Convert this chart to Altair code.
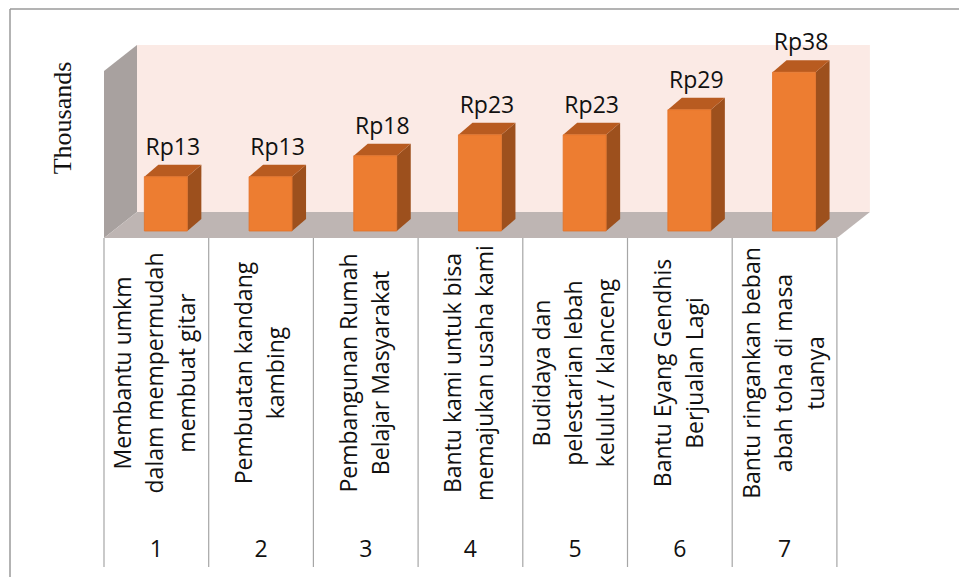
import altair as alt
import pandas as pd

# ---------------------------------------------------------------- data
project_no = [1, 2, 3, 4, 5, 6, 7]
project_names = [
    "Membantu umkm\ndalam mempermudah\nmembuat gitar",
    "Pembuatan kandang\nkambing",
    "Pembangunan Rumah\nBelajar Masyarakat",
    "Bantu kami untuk bisa\nmemajukan usaha kami",
    "Budidaya dan\npelestarian lebah\nkelulut / klanceng",
    "Bantu Eyang Gendhis\nBerjualan Lagi",
    "Bantu ringankan beban\nabah toha di masa\ntuanya",
]
cost_thousands = [13, 13, 18, 23, 23, 29, 38]

# ---------------------------------------------------------------- geometry
# x runs in category-band units (band k spans k-1 .. k), y in thousands.
W, H = 959, 577
BAND_PX = 104.7
UNIT_PX = 4.18
ORIGIN_X_PX = 104
ZERO_Y_PX = 231


def bx(px):
    return px / BAND_PX


def vy(px):
    return px / UNIT_PX


X_DOMAIN = [-ORIGIN_X_PX / BAND_PX, (W - ORIGIN_X_PX) / BAND_PX]
Y_DOMAIN = [-(H - ZERO_Y_PX) / UNIT_PX, ZERO_Y_PX / UNIT_PX]

FLOOR_DX, FLOOR_DY = bx(33), vy(26)     # depth of the floor
BAR_DX, BAR_DY = bx(14), vy(12)         # depth of each column
BAR_W = bx(43)
FLOOR_FRONT = -(FLOOR_DY - BAR_DY) / 2
WALL_TOP = 44.5
N = len(project_no)
TABLE_BOTTOM = -vy(567 - ZERO_Y_PX)
NUMBER_ROW = -vy(550 - ZERO_Y_PX)
NAME_ROW = -vy(373 - ZERO_Y_PX)
NAME_LINE_PX = 32

FRONT = "#ED7D31"
SIDE = "#9D501D"
TOP = "#B85B20"
BACK_WALL = "#FBEAE5"
SIDE_WALL = "#A8A19F"
FLOOR = "#BEB5B3"
GRID = "#A6A6A6"
FONT = "Open Sans"
INK = "#111111"

xs = alt.Scale(domain=X_DOMAIN, nice=False, zero=False)
ys = alt.Scale(domain=Y_DOMAIN, nice=False, zero=False)


def X(field):
    return alt.X(field, type="quantitative", scale=xs, axis=None, stack=None)


def Y(field):
    return alt.Y(field, type="quantitative", scale=ys, axis=None, stack=None)


# ---------------------------------------------------------------- tables
bars = pd.DataFrame({"no": project_no, "name": project_names, "value": cost_thousands})
bars["left"] = bars["no"] - 0.5 + (FLOOR_DX - BAR_DX) / 2 - BAR_W / 2
bars["right"] = bars["left"] + BAR_W
bars["base"] = 0.0
bars["label_x"] = (bars["left"] + bars["right"]) / 2 + BAR_DX / 2
bars["label_y"] = bars["value"] + BAR_DY
bars["label"] = ["Rp" + str(v) for v in cost_thousands]
bars["mid"] = bars["no"] - 0.5
bars["num"] = [str(n) for n in project_no]
# the rotated name block is centred on its band: shift by half its extra lines
bars["name_x"] = [
    m - bx(NAME_LINE_PX * (s.count("\n")) / 2) for m, s in zip(bars["mid"], project_names)
]
bars["name_y"] = NAME_ROW
bars["num_y"] = NUMBER_ROW

side_rows, top_rows = [], []
for _, r in bars.iterrows():
    side_rows.append({"no": r["no"], "x": r["right"], "lo": 0.0, "hi": r["value"]})
    side_rows.append({"no": r["no"], "x": r["right"] + BAR_DX, "lo": BAR_DY, "hi": r["value"] + BAR_DY})
    top_rows.append({"no": r["no"], "y": r["value"], "x": r["left"], "x2": r["right"]})
    top_rows.append({"no": r["no"], "y": r["value"] + BAR_DY, "x": r["left"] + BAR_DX, "x2": r["right"] + BAR_DX})
side = pd.DataFrame(side_rows)
top = pd.DataFrame(top_rows)

floor = pd.DataFrame({
    "y": [FLOOR_FRONT, FLOOR_FRONT + FLOOR_DY],
    "x": [0.0, FLOOR_DX],
    "x2": [float(N), N + FLOOR_DX],
    "k": ["f", "f"],
})
left_wall = pd.DataFrame({
    "x": [0.0, FLOOR_DX],
    "lo": [FLOOR_FRONT, FLOOR_FRONT + FLOOR_DY],
    "hi": [WALL_TOP - FLOOR_DY, WALL_TOP],
    "k": ["w", "w"],
})
back_wall = pd.DataFrame({
    "x": [FLOOR_DX], "x2": [N + FLOOR_DX],
    "y": [FLOOR_FRONT + FLOOR_DY], "y2": [WALL_TOP],
})
grid = pd.DataFrame({
    "x": [float(k) for k in range(N + 1)],
    "y": [FLOOR_FRONT] * (N + 1),
    "y2": [TABLE_BOTTOM] * (N + 1),
})

# ---------------------------------------------------------------- layers
back_layer = alt.Chart(back_wall).mark_rect(color=BACK_WALL).encode(
    x=X("x"), x2="x2", y=Y("y"), y2="y2")

left_layer = alt.Chart(left_wall).mark_area(orient="vertical", color=SIDE_WALL, opacity=1).encode(
    x=X("x"), y=Y("lo"), y2="hi", detail="k:N")

floor_layer = alt.Chart(floor).mark_area(orient="horizontal", color=FLOOR, opacity=1).encode(
    y=Y("y"), x=X("x"), x2="x2", detail="k:N")

grid_layer = alt.Chart(grid).mark_rule(color=GRID, strokeWidth=1.2).encode(
    x=X("x"), y=Y("y"), y2="y2")

side_layer = alt.Chart(side).mark_area(orient="vertical", color=SIDE, opacity=1).encode(
    x=X("x"), y=Y("lo"), y2="hi", detail="no:N")

top_layer = alt.Chart(top).mark_area(orient="horizontal", color=TOP, opacity=1).encode(
    y=Y("y"), x=X("x"), x2="x2", detail="no:N")

front_layer = alt.Chart(bars).mark_rect(color=FRONT, stroke="#E27127", strokeWidth=0.8).encode(
    x=X("left"), x2="right", y=Y("base"), y2="value")

value_labels = alt.Chart(bars).mark_text(
    font=FONT, fontSize=23, color=INK, align="center", baseline="alphabetic", dy=-10
).encode(x=X("label_x"), y=Y("label_y"), text="label:N")

name_labels = alt.Chart(bars).mark_text(
    font=FONT, fontSize=23, color=INK, angle=270, align="center", baseline="middle",
    lineBreak="\n", lineHeight=NAME_LINE_PX
).encode(x=X("name_x"), y=Y("name_y"), text="name:N")

number_labels = alt.Chart(bars).mark_text(
    font=FONT, fontSize=23, color=INK, align="center", baseline="middle"
).encode(x=X("mid"), y=Y("num_y"), text="num:N")

axis_title = alt.Chart(pd.DataFrame({"t": ["Thousands"]})).mark_text(
    font="Liberation Serif", fontSize=26, color=INK, angle=270,
    align="center", baseline="alphabetic"
).encode(x=alt.value(71), y=alt.value(118), text="t:N")

frame_left = alt.Chart(pd.DataFrame({"k": [0]})).mark_rule(color="#9A9A9A", strokeWidth=1.5).encode(
    x=alt.value(10), y=alt.value(9), y2=alt.value(H))
frame_top = alt.Chart(pd.DataFrame({"k": [0]})).mark_rule(color="#9A9A9A", strokeWidth=1.5).encode(
    x=alt.value(10), x2=alt.value(W), y=alt.value(9))

chart = alt.layer(
    back_layer, left_layer, floor_layer, grid_layer,
    side_layer, top_layer, front_layer,
    value_labels, name_labels, number_labels, axis_title,
    frame_left, frame_top,
).properties(
    width=W, height=H, padding=0,
    autosize=alt.AutoSizeParams(type="none"),
    background="white",
).configure_view(strokeWidth=0)

chart.save("out.html", embed_options={"renderer": "svg", "actions": False})
